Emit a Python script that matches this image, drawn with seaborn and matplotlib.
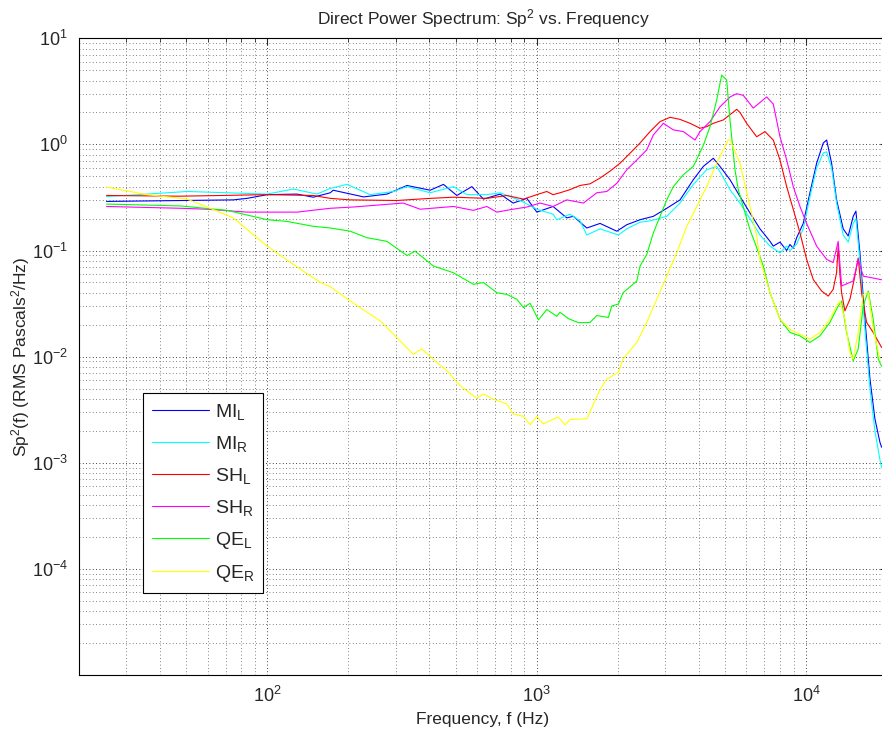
import pandas as pd
import matplotlib
matplotlib.use("Agg")
import matplotlib.pyplot as plt
import seaborn as sns
from matplotlib.ticker import LogLocator, NullFormatter

# MI left / right
mi_l_f = [25.3, 74.8, 84.1, 100, 128.9, 148.2, 171.3, 175.7, 227.7, 278.2, 330, 402.6, 451, 505.6,
          574.9, 634.7, 732.1, 818.1, 919.6, 1002, 1151, 1294, 1369, 1536, 1720, 1985, 2162, 2421,
          2713, 3042, 3408, 3818, 4158, 4529, 4796, 5224, 5689, 6196, 6750, 7045, 7353, 7562, 8010,
          8482, 8723, 8973, 9237, 9772, 10346, 10957, 11594, 11935, 12451, 12995, 13752, 14352,
          14978, 15327, 15861, 16553, 17280, 18030, 18821, 19096]
mi_l_v = [0.29, 0.30, 0.31, 0.336, 0.34, 0.318, 0.35, 0.37, 0.32, 0.34, 0.41, 0.37, 0.42, 0.33,
          0.40, 0.305, 0.34, 0.28, 0.31, 0.23, 0.26, 0.203, 0.21, 0.163, 0.18, 0.152, 0.175, 0.195,
          0.21, 0.25, 0.30, 0.465, 0.62, 0.74, 0.62, 0.465, 0.323, 0.226, 0.16, 0.14, 0.122, 0.11,
          0.12, 0.10, 0.114, 0.105, 0.132, 0.18, 0.35, 0.665, 1.03, 1.1, 0.665, 0.30, 0.16, 0.137,
          0.21, 0.235, 0.095, 0.0225, 0.0062, 0.0026, 0.00156, 0.0014]

mi_r_f = [25.3, 35.8, 50.4, 70.9, 100, 124.9, 152.9, 171.3, 197.6, 241.1, 294.2, 330, 402.6, 491.2,
          550.8, 653.4, 732.1, 868.5, 1002, 1151, 1188, 1331, 1450, 1536, 1720, 2012, 2162, 2421,
          2637, 3042, 3408, 3818, 4281, 4662, 4866, 5224, 5689, 6196, 6750, 7353, 8010, 8482, 8723,
          9237, 9772, 10346, 10957, 11594, 11935, 12451, 12995, 13752, 14352, 14978, 15327, 15861,
          16553, 17280, 18030, 18821, 19096]
mi_r_v = [0.323, 0.34, 0.36, 0.35, 0.34, 0.38, 0.34, 0.385, 0.42, 0.336, 0.36, 0.40, 0.35, 0.40,
          0.336, 0.336, 0.35, 0.296, 0.245, 0.22, 0.195, 0.22, 0.19, 0.14, 0.16, 0.14, 0.16, 0.185,
          0.19, 0.21, 0.28, 0.42, 0.577, 0.62, 0.518, 0.374, 0.28, 0.20, 0.14, 0.11, 0.095, 0.11,
          0.10, 0.115, 0.16, 0.32, 0.60, 0.83, 0.85, 0.60, 0.28, 0.14, 0.12, 0.18, 0.20, 0.08,
          0.018, 0.005, 0.002, 0.00107, 0.0009]

# SH left / right
sh_l_f = [25.3, 47.6, 100, 148.2, 171.3, 203.2, 302.9, 402.6, 491.2, 653.4, 775.1, 893.3, 1002,
          1091, 1151, 1222, 1331, 1450, 1579, 1720, 1874, 2041, 2223, 2421, 2637, 2873, 3129, 3408,
          3712, 4043, 4281, 4529, 4932, 5300, 5531, 5689, 6024, 6561, 7045, 7562, 8010, 8482, 8973,
          9500, 10060, 10644, 11435, 12100, 12622, 12995, 13175, 13367, 13563, 13953, 14563, 15197,
          15632, 16093, 16795, 17772, 19096]
sh_l_v = [0.33, 0.325, 0.336, 0.33, 0.31, 0.30, 0.296, 0.31, 0.318, 0.31, 0.33, 0.305, 0.336,
          0.36, 0.336, 0.35, 0.375, 0.41, 0.425, 0.482, 0.56, 0.665, 0.826, 1.03, 1.32, 1.64, 1.80,
          1.72, 1.58, 1.42, 1.47, 1.58, 1.70, 1.96, 2.14, 2.0, 1.58, 1.18, 1.32, 1.10, 0.712, 0.40,
          0.244, 0.1466, 0.0825, 0.0533, 0.0415, 0.0372, 0.043, 0.0617, 0.11, 0.06, 0.040, 0.027,
          0.0347, 0.0574, 0.085, 0.040, 0.021, 0.0169, 0.0122]

sh_r_f = [25.3, 47.6, 59.8, 84.1, 128.9, 171.3, 208.5, 319.7, 369.6, 491.2, 583, 653.4, 711.9,
          818.1, 919.6, 1030, 1151, 1294, 1492, 1673, 1822, 1985, 2162, 2354, 2564, 2713, 2955,
          3218, 3505, 3874, 4043, 4404, 4796, 5224, 5531, 5851, 6373, 7148, 7562, 8010, 8482, 8973,
          9500, 10060, 10957, 11935, 12622, 13175, 13563, 14978, 15632, 16314, 17772, 19096]
sh_r_v = [0.26, 0.25, 0.245, 0.23, 0.23, 0.25, 0.257, 0.28, 0.245, 0.26, 0.239, 0.26, 0.23,
          0.245, 0.257, 0.28, 0.26, 0.30, 0.28, 0.35, 0.36, 0.43, 0.577, 0.712, 0.887, 1.23, 1.58,
          1.37, 1.32, 1.10, 1.32, 1.64, 2.26, 2.8, 3.0, 2.9, 2.2, 2.8, 2.4, 1.18, 0.712, 0.40, 0.26,
          0.18, 0.11, 0.0825, 0.077, 0.122, 0.0463, 0.0516, 0.0825, 0.0574, 0.055, 0.053]

# QE left / right
qe_l_f = [25.3, 47.6, 70.9, 100, 118.3, 148.2, 171.3, 203.2, 234.4, 278.2, 330, 354, 414.2, 491.2,
          583, 634.7, 711.9, 775.1, 844.3, 893.3, 946, 1016, 1091, 1188, 1222, 1312, 1429, 1579,
          1673, 1847, 1901, 2012, 2094, 2354, 2421, 2564, 2713, 2873, 3042, 3218, 3505, 3818, 4158,
          4404, 4662, 4866, 5078, 5224, 5451, 5608, 6196, 6466, 6943, 7353, 8010, 8723, 9500, 10346,
          11270, 12274, 13175, 13563, 14157, 14978, 15632, 16314, 17030, 17772, 18548, 19096]
qe_l_v = [0.274, 0.263, 0.239, 0.195, 0.188, 0.169, 0.163, 0.152, 0.132, 0.122, 0.0897, 0.0985,
          0.0713, 0.0617, 0.048, 0.050, 0.040, 0.0386, 0.0347, 0.029, 0.0318, 0.0222, 0.0278, 0.024,
          0.0262, 0.0228, 0.0209, 0.021, 0.0244, 0.0234, 0.030, 0.0313, 0.040, 0.0515, 0.0713,
          0.0917, 0.1466, 0.21, 0.30, 0.40, 0.518, 0.62, 0.978, 1.47, 2.62, 4.5, 4.04, 1.70, 0.577,
          0.374, 0.157, 0.118, 0.0713, 0.040, 0.0225, 0.0169, 0.0157, 0.0136, 0.0157, 0.021, 0.030,
          0.0334, 0.0169, 0.0091, 0.0118, 0.030, 0.0415, 0.0225, 0.0095, 0.0081]

qe_r_f = [25.3, 35.8, 50.4, 59.8, 74.8, 88.7, 100, 124.9, 157.3, 171.3, 203.2, 262.6, 302.9, 348,
          375, 420.2, 464.4, 520.2, 600, 634.7, 689.9, 775.1, 818.1, 893.3, 946, 1002, 1057, 1202,
          1276, 1331, 1536, 1620, 1720, 1822, 2012, 2094, 2354, 2564, 2793, 3042, 3313, 3609, 3930,
          4281, 4662, 5148, 5224, 5689, 6196, 6561, 6750, 7353, 8010, 8723, 9772, 10346, 11270,
          12274, 12995, 13367, 13953, 14563, 14978, 15632, 16314, 17030, 17772, 18821]
qe_r_v = [0.396, 0.336, 0.305, 0.257, 0.203, 0.141, 0.110, 0.074, 0.050, 0.0456, 0.0334, 0.0217,
          0.0151, 0.01054, 0.0118, 0.0091, 0.00736, 0.00532, 0.00405, 0.00444, 0.00398, 0.00358,
          0.00289, 0.00274, 0.00228, 0.00274, 0.00232, 0.0027, 0.00228, 0.00255, 0.0026, 0.0035,
          0.0049, 0.00615, 0.0071, 0.0095, 0.0136, 0.021, 0.0347, 0.0574, 0.095, 0.169, 0.26, 0.40,
          0.665, 1.10, 1.10, 0.665, 0.26, 0.137, 0.0825, 0.040, 0.0225, 0.0181, 0.0157, 0.0146,
          0.0169, 0.0225, 0.030, 0.0334, 0.0225, 0.0109, 0.0095, 0.0169, 0.0386, 0.040, 0.0181,
          0.0095]

labels = [r"MI$_\mathrm{L}$", r"MI$_\mathrm{R}$", r"SH$_\mathrm{L}$",
          r"SH$_\mathrm{R}$", r"QE$_\mathrm{L}$", r"QE$_\mathrm{R}$"]
colors = ["#0000ff", "#00ffff", "#ff0000", "#ff00ff", "#00ff00", "#ffff00"]
series = [(mi_l_f, mi_l_v), (mi_r_f, mi_r_v), (sh_l_f, sh_l_v),
          (sh_r_f, sh_r_v), (qe_l_f, qe_l_v), (qe_r_f, qe_r_v)]

df = pd.concat([pd.DataFrame({"freq": f, "sp2": v, "name": lab})
                for (f, v), lab in zip(series, labels)], ignore_index=True)

sns.set_style("white")
plt.rcParams["font.family"] = ["Liberation Sans", "DejaVu Sans"]
plt.rcParams["mathtext.fontset"] = "custom"
plt.rcParams["mathtext.rm"] = "Liberation Sans"
plt.rcParams["mathtext.it"] = "Liberation Sans:italic"
plt.rcParams["mathtext.bf"] = "Liberation Sans:bold"

fig = plt.figure(figsize=(8.82, 7.36), dpi=100)
ax = fig.add_axes([0.0896, 0.0829, 0.9161, 0.8651])

sns.lineplot(data=df, x="freq", y="sp2", hue="name", palette=colors,
             hue_order=labels, estimator=None, sort=False, linewidth=0.8, ax=ax)

ax.set_xscale("log")
ax.set_yscale("log")
ax.set_xlim(20, 20000)
ax.set_ylim(1e-5, 10)
ax.set_xticks([1e2, 1e3, 1e4])
ax.set_yticks([1e-4, 1e-3, 1e-2, 1e-1, 1e0, 1e1])
ax.xaxis.set_minor_locator(LogLocator(base=10, subs=range(2, 10), numticks=20))
ax.yaxis.set_minor_locator(LogLocator(base=10, subs=range(2, 10), numticks=20))
ax.xaxis.set_minor_formatter(NullFormatter())
ax.yaxis.set_minor_formatter(NullFormatter())

ax.grid(True, which="major", color="k", linestyle=(0, (1, 3)), linewidth=0.6)
ax.grid(True, which="minor", color="0.35", linestyle=(0, (1, 3)), linewidth=0.6)
ax.tick_params(which="both", direction="in", top=True, right=True, labelsize=13, pad=8)
ax.tick_params(which="major", length=5, width=0.8)
ax.tick_params(which="minor", length=3, width=0.6)
for s in ax.spines.values():
    s.set_color("k")
    s.set_linewidth(0.8)

ax.set_title(r"Direct Power Spectrum: Sp$^2$ vs. Frequency", fontsize=12.5, pad=10)
ax.set_xlabel("Frequency, f (Hz)", fontsize=12.5)
ax.set_ylabel(r"Sp$^2$(f) (RMS Pascals$^2$/Hz)", fontsize=12.5, labelpad=0)

h, l = ax.get_legend_handles_labels()
leg = ax.legend(h, l, loc="lower left", bbox_to_anchor=(0.0792, 0.1288), borderaxespad=0,
                fontsize=14, fancybox=False, framealpha=1, edgecolor="k",
                handlelength=2.95, handletextpad=0.3, labelspacing=0.62, borderpad=0.45)
leg.get_frame().set_linewidth(0.8)

fig.savefig("out.png", dpi=100)
